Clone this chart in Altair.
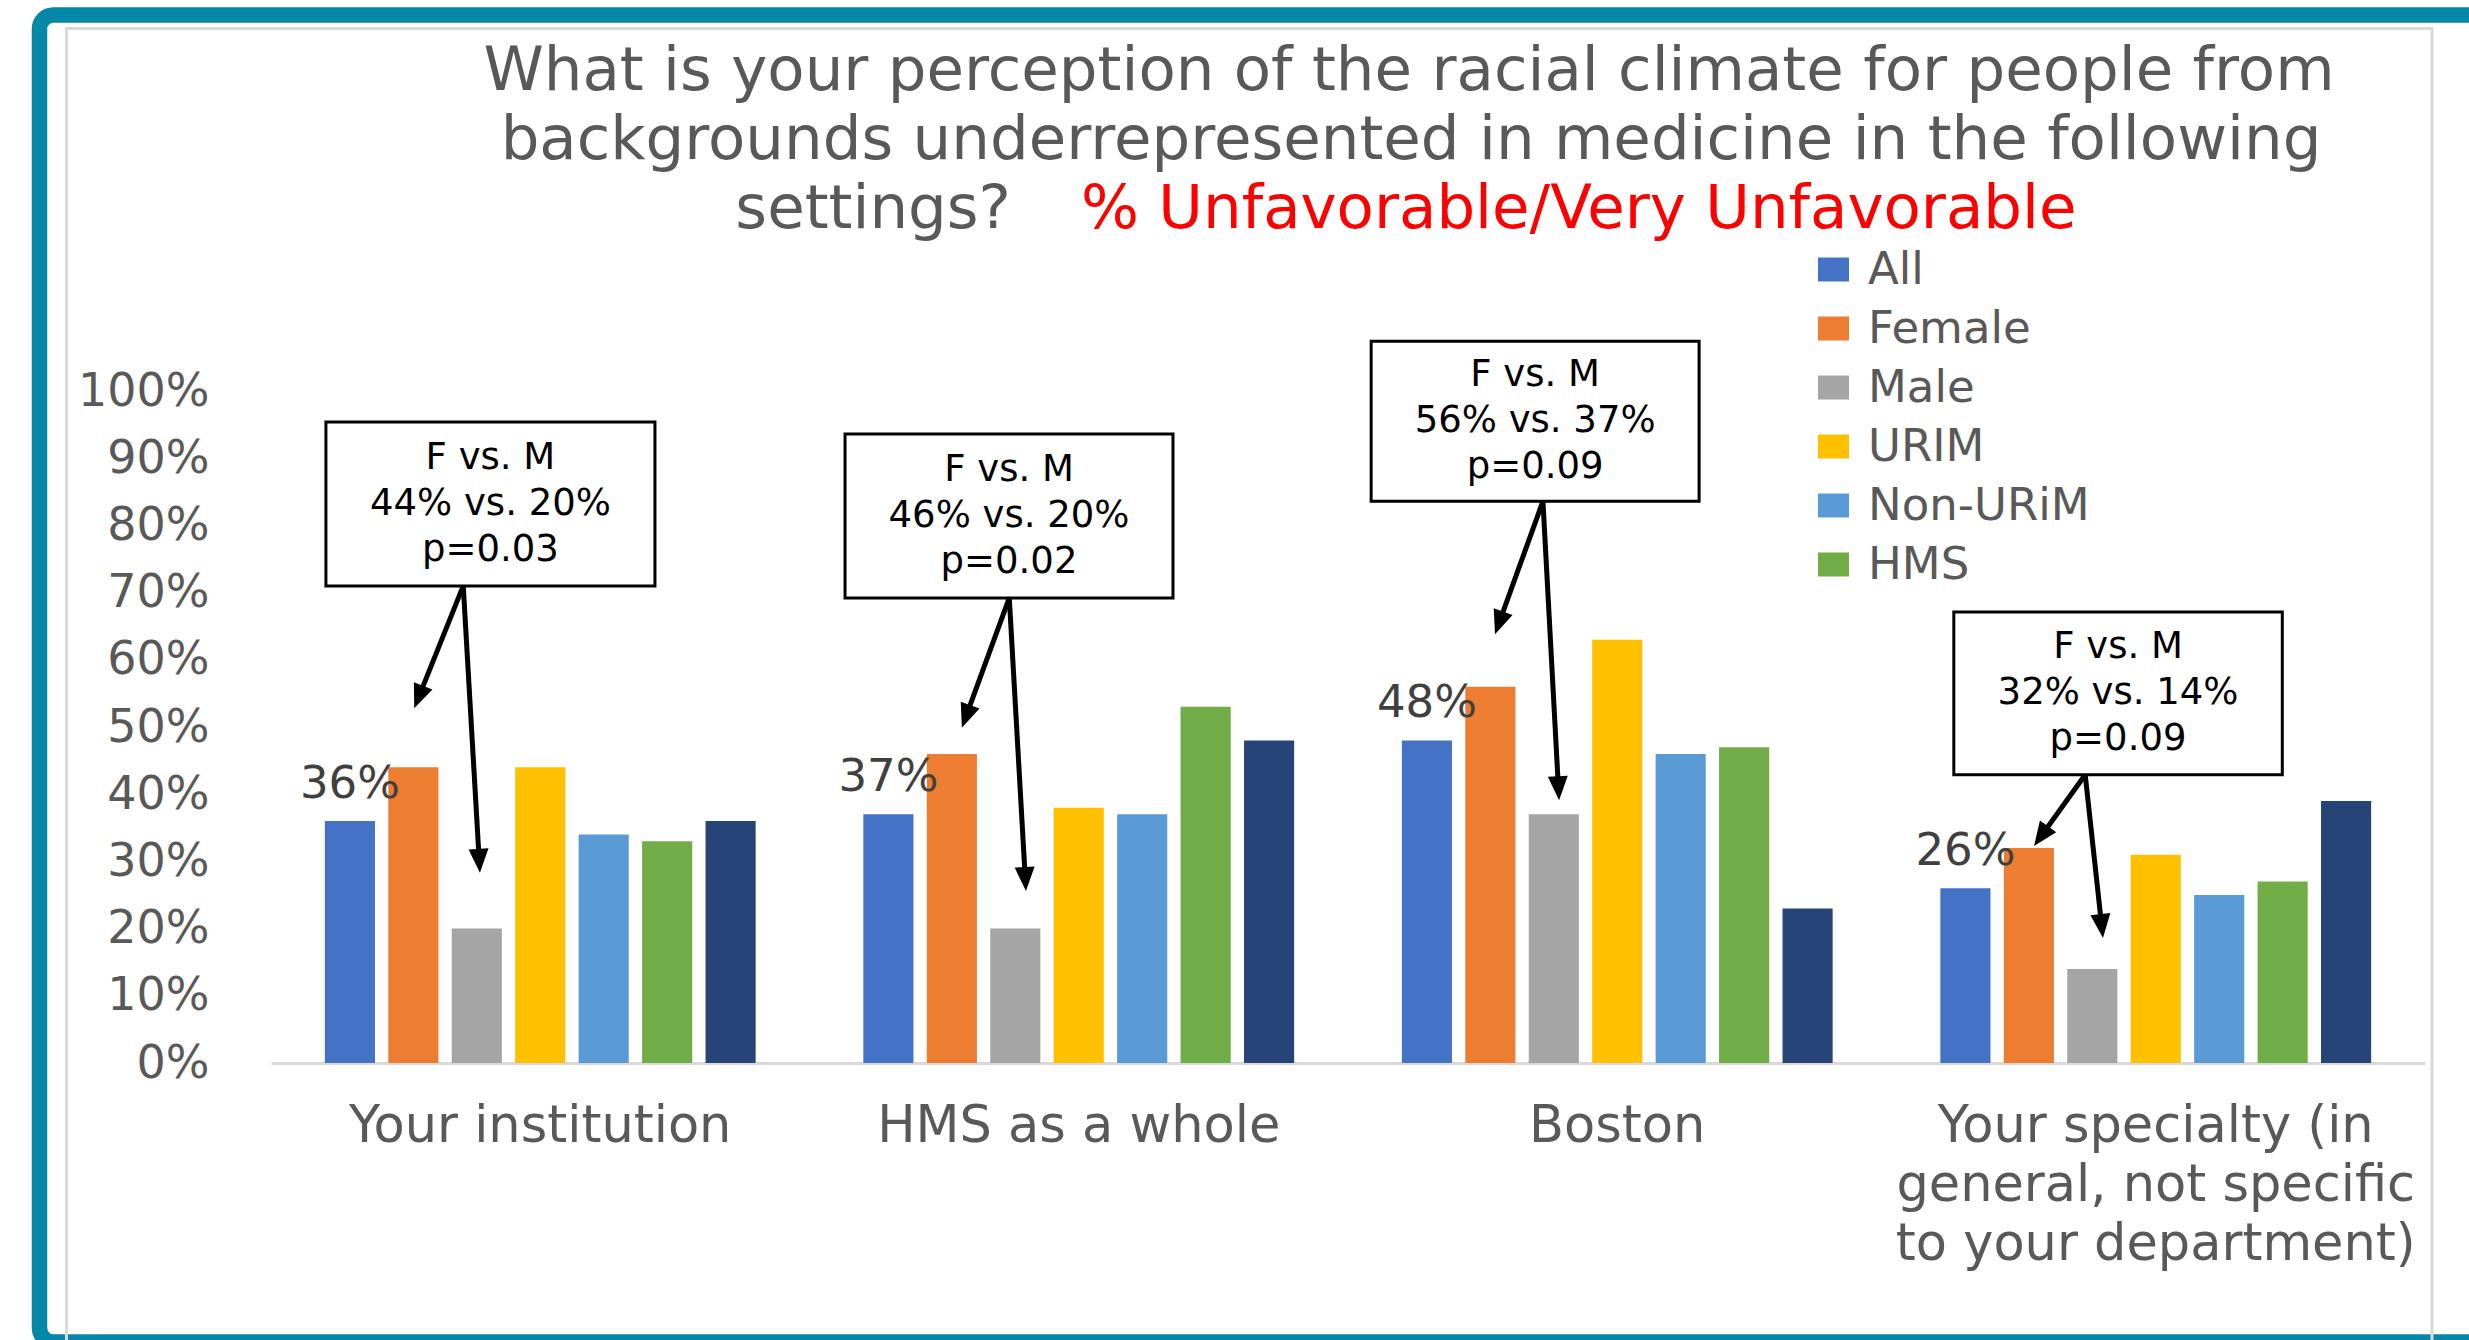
import math
import altair as alt
import pandas as pd

# ---------------- data ----------------
categories = ["Your institution", "HMS as a whole", "Boston",
              "Your specialty (in\ngeneral, not specific\nto your department)"]
series = ["All", "Female", "Male", "URIM", "Non-URiM", "HMS", "Non-HMS"]
colors = ["#4472C4", "#ED7D31", "#A5A5A5", "#FFC000", "#5B9BD5", "#70AD47", "#264478"]

v_all = [36, 37, 48, 26]
v_female = [44, 46, 56, 32]
v_male = [20, 20, 37, 14]
v_urim = [44, 38, 63, 31]
v_nonurim = [34, 37, 46, 25]
v_hms = [33, 53, 47, 27]
v_nonhms = [36, 48, 23, 39]

p_values = ["0.03", "0.02", "0.09", "0.09"]

title_line1 = "What is your perception of the racial climate for people from"
title_line2 = "backgrounds underrepresented in medicine in the following"
title_line3a = "settings?"
title_line3b = "% Unfavorable/Very Unfavorable"

# annotation geometry (x in category units 0..4, y in fraction of 1)
box_x0 = [0.102, 1.066, 2.043, 3.125]
box_x1 = [0.713, 1.675, 2.652, 3.735]
box_top = [0.954, 0.936, 1.074, 0.671]
box_bot = [0.710, 0.692, 0.836, 0.429]
arr_ox = [0.357, 1.371, 2.362, 3.369]
tipF_x = [0.266, 1.283, 2.273, 3.274]
tipF_y = [0.528, 0.499, 0.638, 0.323]
tipM_x = [0.388, 1.402, 2.392, 3.402]
tipM_y = [0.283, 0.256, 0.391, 0.186]

# ---------------- layout ----------------
W, H = 2154, 672
PL, PT = 271, 391
PR = 2469 - PL - W
PB = 1340 - PT - H
PXU = W / 4.0
PXY = float(H)

FONT = "DejaVu Sans"
GRAY = "#595959"

values_by_series = [v_all, v_female, v_male, v_urim, v_nonurim, v_hms, v_nonhms]
rows = []
for s, vals in zip(series, values_by_series):
    for c, v in zip(categories, vals):
        rows.append({"category": c, "series": s, "value": v / 100.0})
df = pd.DataFrame(rows)

yscale = alt.Scale(domain=[0, 1], nice=False)
xband = alt.Scale(domain=categories, paddingInner=0.2, paddingOuter=0.1)
xoff = alt.Scale(domain=series, paddingInner=0.21, paddingOuter=0)

bars = alt.Chart(df).mark_bar(opacity=1).encode(
    x=alt.X("category:N", sort=categories, scale=xband, title=None,
            axis=alt.Axis(labelFont=FONT, labelFontSize=51, labelColor=GRAY,
                          labelPadding=38, ticks=False, domain=True,
                          domainColor="#D9D9D9", domainWidth=3, labelAngle=0,
                          labelLimit=0, labelLineHeight=59, grid=False,
                          labelExpr="split(datum.label, '\\n')")),
    xOffset=alt.XOffset("series:N", sort=series, scale=xoff),
    y=alt.Y("value:Q", scale=yscale, title=None,
            axis=alt.Axis(format=".0%", values=[i / 10 for i in range(11)],
                          labelFont=FONT, labelFontSize=46, labelColor=GRAY,
                          labelPadding=62, ticks=False, tickSize=0, domain=False,
                          grid=False)),
    color=alt.Color("series:N", sort=series,
                    scale=alt.Scale(domain=series, range=colors),
                    legend=alt.Legend(values=series[:6], title=None, orient="none",
                                      legendX=1540, legendY=-144, padding=0,
                                      symbolType="M-1.29,-1H1.29V1H-1.29Z",
                                      symbolSize=576, symbolStrokeWidth=0,
                                      symbolOpacity=1, labelLimit=0,
                                      labelFont=FONT, labelFontSize=45,
                                      labelColor=GRAY, labelOffset=12,
                                      rowPadding=13)),
)

labels = alt.Chart(df[df["series"] == "All"]).mark_text(
    font=FONT, fontSize=45, color="#404040", dy=-37, baseline="middle"
).encode(
    x=alt.X("category:N", sort=categories, scale=xband),
    xOffset=alt.XOffset("series:N", sort=series, scale=xoff),
    y=alt.Y("value:Q", scale=yscale),
    text=alt.Text("value:Q", format=".0%"),
)

base = alt.layer(bars, labels)

# ---------- annotations ----------
xlin = alt.Scale(domain=[0, 4], nice=False, zero=False)
box_rows, line_rows, head_rows = [], [], []
for i in range(4):
    box_rows.append({
        "x0": box_x0[i], "x1": box_x1[i], "yt": box_top[i], "yb": box_bot[i],
        "cx": (box_x0[i] + box_x1[i]) / 2, "cy": (box_top[i] + box_bot[i]) / 2,
        "t": f"F vs. M\n{v_female[i]}% vs. {v_male[i]}%\np={p_values[i]}",
    })
    ox, oy = arr_ox[i], box_bot[i]
    for tx, ty in [(tipF_x[i], tipF_y[i]), (tipM_x[i], tipM_y[i])]:
        dxp = (tx - ox) * PXU
        dyp = -(ty - oy) * PXY
        L = math.hypot(dxp, dyp)
        ang = math.degrees(math.atan2(dxp, -dyp)) % 360
        back = 16.0
        ex = tx - (dxp / L * back) / PXU
        ey = ty + (dyp / L * back) / PXY
        line_rows.append({"x": ox, "y": oy, "x2": ex, "y2": ey})
        head_rows.append({"x": tx, "y": ty, "angle": ang})

boxes = alt.Chart(pd.DataFrame(box_rows)).mark_rect(
    fill="white", stroke="black", strokeWidth=3
).encode(
    x=alt.X("x0:Q", scale=xlin, axis=None), x2="x1:Q",
    y=alt.Y("yt:Q", scale=yscale), y2="yb:Q",
)
box_text = alt.Chart(pd.DataFrame(box_rows)).transform_calculate(
    lines="split(datum.t, '\\n')"
).mark_text(font=FONT, fontSize=37, lineHeight=46, color="black",
            align="center", baseline="middle", dy=-46).encode(
    x=alt.X("cx:Q", scale=xlin, axis=None),
    y=alt.Y("cy:Q", scale=yscale),
    text="lines:N",
)
arrow_lines = alt.Chart(pd.DataFrame(line_rows)).mark_rule(
    color="black", strokeWidth=5
).encode(
    x=alt.X("x:Q", scale=xlin, axis=None), x2="x2:Q",
    y=alt.Y("y:Q", scale=yscale), y2="y2:Q",
)
arrow_heads = alt.Chart(pd.DataFrame(head_rows)).mark_point(
    shape="M0,0L-1,2.4L1,2.4Z", filled=True, size=400, color="black",
    opacity=1, strokeWidth=0
).encode(
    x=alt.X("x:Q", scale=xlin, axis=None),
    y=alt.Y("y:Q", scale=yscale),
    angle=alt.Angle("angle:Q", scale=None),
)
annot = alt.layer(boxes, arrow_lines, arrow_heads, box_text)

# ---------- decorations / title ----------
one = alt.Data(values=[{"a": 1}])
teal_frame = alt.Chart(one).mark_rect(
    fill="white", fillOpacity=0, stroke="#0488A7", strokeWidth=15.5, cornerRadius=14
).encode(x=alt.value(39.5 - PL), x2=alt.value(2490 - PL),
         y=alt.value(15 - PT), y2=alt.value(1342 - PT))
panel = alt.Chart(one).mark_rect(
    fill="white", fillOpacity=0, stroke="#D9D9D9", strokeWidth=3
).encode(x=alt.value(66.5 - PL), x2=alt.value(2432 - PL),
         y=alt.value(28.5 - PT), y2=alt.value(1360 - PT))


def ttext(txt, x, y, align="center", color=GRAY):
    return alt.Chart(alt.Data(values=[{"t": txt}])).mark_text(
        font=FONT, fontSize=61, color=color, align=align, baseline="middle"
    ).encode(x=alt.value(x - PL), y=alt.value(y - PT), text="t:N")


t1 = ttext(title_line1, 1409, 72)
t2 = ttext(title_line2, 1411, 141)
t3a = ttext(title_line3a, 1011, 210, align="right")
t3b = ttext(title_line3b, 1081, 210, align="left", color="#FF0000")

chart = alt.layer(
    teal_frame, panel, base, annot, t1, t2, t3a, t3b
).resolve_scale(x="independent").properties(
    width=W, height=H,
    padding={"left": PL, "top": PT, "right": PR, "bottom": PB},
    autosize=alt.AutoSizeParams(type="none"),
    background="white",
).configure_view(stroke=None)

chart.save("out.html", embed_options={"renderer": "svg", "actions": False})
